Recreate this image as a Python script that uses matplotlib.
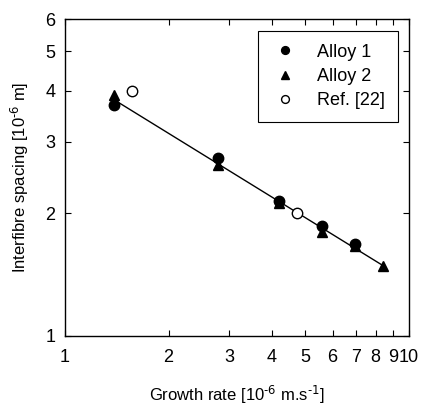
import numpy as np
import matplotlib
matplotlib.use("Agg")
import matplotlib.pyplot as plt
from matplotlib.ticker import FixedLocator, FixedFormatter, NullLocator

plt.rcParams['font.family'] = ['Liberation Sans', 'DejaVu Sans']
plt.rcParams['mathtext.default'] = 'regular'

# data
alloy1_x = [1.39, 2.79, 4.19, 5.58, 6.97]
alloy1_y = [3.70, 2.73, 2.145, 1.865, 1.68]
alloy2_x = [1.39, 2.79, 4.19, 5.58, 6.97, 8.39]
alloy2_y = [3.91, 2.63, 2.12, 1.80, 1.66, 1.485]
ref_x = [1.566, 4.72]
ref_y = [4.00, 2.00]
fit_x = [1.39, 8.39]
fit_y = [3.80, 1.49]

x_ticks = [1, 2, 3, 4, 5, 6, 7, 8, 9, 10]
x_labels = ['1', '2', '3', '4', '5', '6', '7', '8', '9', '10']
y_ticks = [1, 2, 3, 4, 5, 6]
y_labels = ['1', '2', '3', '4', '5', '6']

fig = plt.figure(figsize=(4.22, 4.07), dpi=100)
ax = fig.add_axes([65/422, 1 - 336/407, (409-65)/422, (336-19)/407])

ax.plot(fit_x, fit_y, color='k', lw=1.0, zorder=1)
ax.plot(alloy1_x, alloy1_y, 'o', color='k', ms=7.5, label='Alloy 1', zorder=3)
ax.plot(alloy2_x, alloy2_y, '^', color='k', ms=7.5, label='Alloy 2', zorder=2)
ax.plot(ref_x, ref_y, 'o', mfc='white', mec='k', mew=1.0, ms=7.5, label='Ref. [22]', zorder=3)

ax.set_xscale('log')
ax.set_yscale('log')
ax.set_xlim(1, 10)
ax.set_ylim(1, 6)

ax.xaxis.set_major_locator(FixedLocator(x_ticks))
ax.xaxis.set_major_formatter(FixedFormatter(x_labels))
ax.xaxis.set_minor_locator(NullLocator())
ax.yaxis.set_major_locator(FixedLocator(y_ticks))
ax.yaxis.set_major_formatter(FixedFormatter(y_labels))
ax.yaxis.set_minor_locator(NullLocator())

ax.tick_params(direction='in', top=True, right=True, length=4, width=0.8,
               labelsize=13)
ax.tick_params(axis='x', pad=9)
ax.tick_params(axis='y', pad=7)
for s in ax.spines.values():
    s.set_linewidth(1.0)

ax.set_xlabel('Growth rate [10$^{\\text{-6}}$ m.s$^{\\text{-1}}$]', fontsize=12, labelpad=13)
ax.set_ylabel('Interfibre spacing [10$^{\\text{-6}}$ m]', fontsize=12, labelpad=10)

leg = ax.legend(loc='upper right', bbox_to_anchor=(0.968, 0.962), fontsize=13,
                frameon=True, fancybox=False, edgecolor='k', framealpha=1,
                borderpad=0.7, handletextpad=1.0, labelspacing=0.4,
                markerscale=0.75, handlelength=1.6, borderaxespad=0)
leg.get_frame().set_linewidth(0.8)

fig.savefig('out.png', dpi=100)
